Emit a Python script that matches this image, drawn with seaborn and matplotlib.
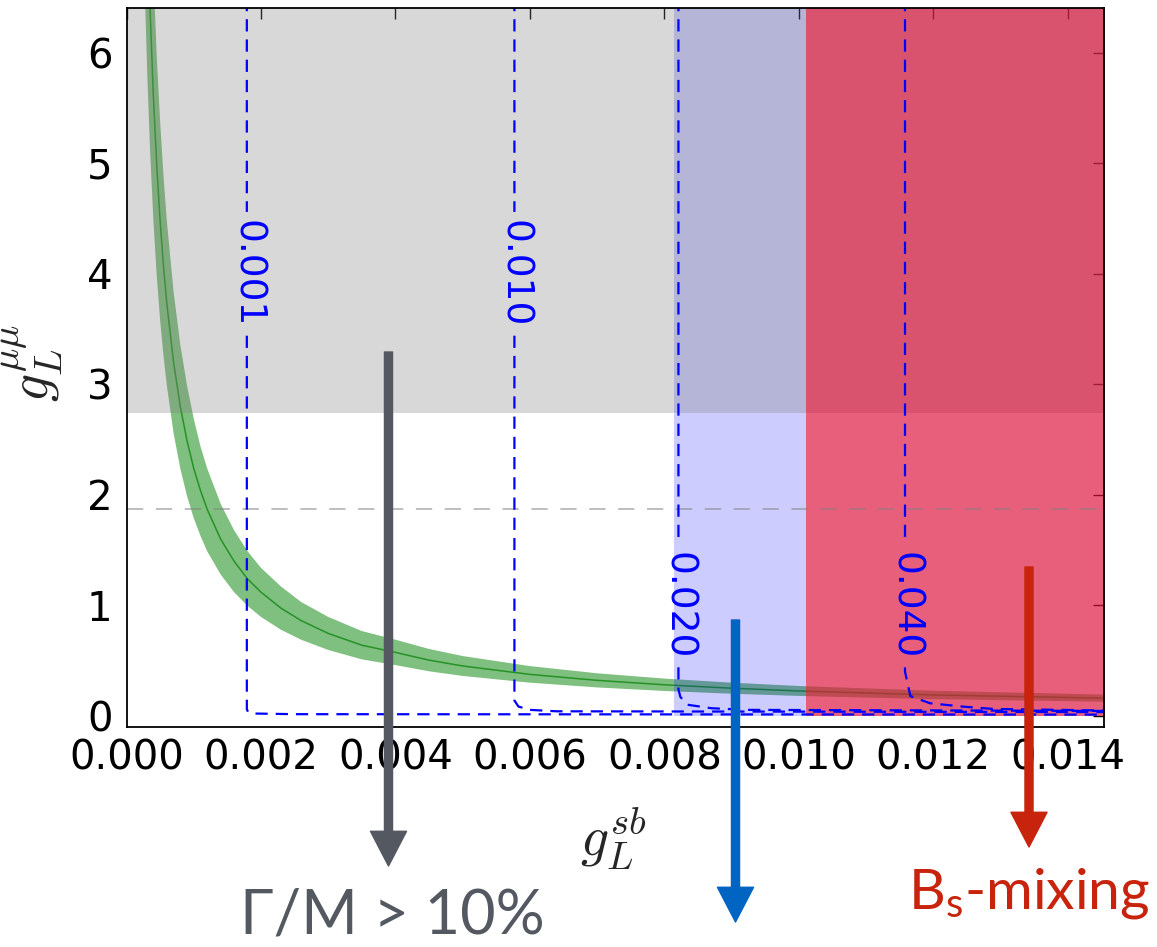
import numpy as np
import matplotlib
matplotlib.use("Agg")
import matplotlib.pyplot as plt
import seaborn as sns
from matplotlib.patches import FancyArrowPatch, ArrowStyle

# ---------------------------------------------------------------------------
# Data
# ---------------------------------------------------------------------------
# Preferred band in the (g_L^sb, g_L^mumu) plane: central curve and 1-sigma edges
gsb = [0.00025, 0.00028, 0.00031, 0.00035, 0.00040, 0.00045, 0.00050, 0.00055,
       0.00060, 0.00070, 0.00080, 0.00090, 0.00100, 0.00110, 0.00120, 0.00140,
       0.00160, 0.00180, 0.00200, 0.00230, 0.00260, 0.00300, 0.00350, 0.00400,
       0.00450, 0.00500, 0.00600, 0.00700, 0.00800, 0.00900, 0.01000, 0.01200,
       0.01460]
gmm_center = [8.96, 8.00, 7.23, 6.40, 5.60, 4.98, 4.48, 4.07,
              3.73, 3.20, 2.80, 2.49, 2.24, 2.04, 1.87, 1.60,
              1.40, 1.24, 1.12, 0.974, 0.862, 0.747, 0.640, 0.575,
              0.505, 0.452, 0.376, 0.322, 0.282, 0.251, 0.226, 0.190,
              0.160]
gmm_low = [7.17, 6.40, 5.78, 5.12, 4.48, 3.98, 3.58, 3.26,
           2.99, 2.56, 2.24, 1.99, 1.79, 1.63, 1.49, 1.28,
           1.12, 0.996, 0.896, 0.779, 0.689, 0.597, 0.512, 0.460,
           0.404, 0.362, 0.301, 0.258, 0.226, 0.201, 0.181, 0.152,
           0.128]
gmm_high = [10.75, 9.60, 8.67, 7.68, 6.72, 5.97, 5.38, 4.89,
            4.48, 3.84, 3.36, 2.99, 2.69, 2.44, 2.24, 1.92,
            1.68, 1.49, 1.34, 1.17, 1.03, 0.896, 0.768, 0.690,
            0.606, 0.542, 0.451, 0.386, 0.338, 0.301, 0.271, 0.228,
            0.192]

# Excluded / constrained regions
width_bound_gmm = 2.74            # above: Gamma/M > 10%
reference_gmm = 1.87              # dashed reference coupling
blue_region_gsb = [0.00815, 0.0101]
bs_mixing_gsb = [0.0101, 0.0147]

# Iso-contours (vertical branch, knee, floor)
contour_labels = ["0.001", "0.010", "0.020", "0.040"]
contour_gsb = [
    [0.00179, 0.00179, 0.00181, 0.00188, 0.00250, 0.01470],
    [0.00577, 0.00577, 0.00583, 0.00600, 0.00640, 0.01470],
    [0.00821, 0.00821, 0.00824, 0.00836, 0.00870, 0.00920, 0.01470],
    [0.01158, 0.01158, 0.01166, 0.01195, 0.01245, 0.01290, 0.01470],
]
contour_gmm = [
    [6.5, 0.06, 0.035, 0.022, 0.016, 0.012],
    [6.5, 0.14, 0.085, 0.055, 0.042, 0.035],
    [6.5, 0.24, 0.17, 0.10, 0.07, 0.055, 0.045],
    [6.5, 0.40, 0.18, 0.115, 0.084, 0.063, 0.048],
]
contour_label_gmm = [4.0, 4.0, 1.0, 1.0]

x_ticks = [0.000, 0.002, 0.004, 0.006, 0.008, 0.010, 0.012, 0.014]
y_ticks = [0, 1, 2, 3, 4, 5, 6]

# ---------------------------------------------------------------------------
# Style
# ---------------------------------------------------------------------------
sns.set_theme(style="white")
plt.rcParams["font.family"] = ["DejaVu Sans"]
plt.rcParams["mathtext.fontset"] = "custom"
plt.rcParams["mathtext.rm"] = "Lato:regular"
plt.rcParams["mathtext.it"] = "Lato:italic"

W, H = 1157, 947
fig = plt.figure(figsize=(W / 100, H / 100), dpi=100)
fig.patch.set_facecolor("white")
ax = fig.add_axes([126.5 / W, 1 - 727 / H, (1104 - 126.5) / W, (727 - 8.5) / H])
ax.set_facecolor("white")

XMAX, YMIN, YMAX = 0.01454, -0.1, 6.4

# preferred band
ax.fill_between(gsb, gmm_low, gmm_high, color="green", alpha=0.5, lw=0, zorder=1)
sns.lineplot(x=gsb, y=gmm_center, ax=ax, color="green", lw=1.1, alpha=0.7,
             estimator=None, sort=False, zorder=1.5)

# constraint regions
ax.fill_between(blue_region_gsb, 0, YMAX + 1, color="blue", alpha=0.2, lw=0, zorder=2)
ax.fill_between([0, XMAX + 0.001], width_bound_gmm, YMAX + 1, color="gray",
                alpha=0.3, lw=0, zorder=3)
ax.fill_between(bs_mixing_gsb, 0, YMAX + 1, color="crimson", alpha=0.68, lw=0, zorder=4)

# reference coupling
ax.axhline(reference_gmm, color="gray", alpha=0.55, lw=1.3, dashes=(9, 7), zorder=4.5)

# iso-contours with inline labels
gap = 0.56
for lab, xs, ys, ly in zip(contour_labels, contour_gsb, contour_gmm, contour_label_gmm):
    px = [xs[0], xs[0], np.nan, xs[0]] + list(xs[1:])
    py = [ys[0], ly + gap, np.nan, ly - gap] + list(ys[1:])
    ax.plot(px, py, color="blue", lw=1.6, dashes=(5.5, 3.6), zorder=5)
    ax.text(xs[0], ly, lab, rotation=-90, ha="center", va="center",
            color="blue", fontsize=27, zorder=5)

ax.set_xlim(0, XMAX)
ax.set_ylim(YMIN, YMAX)
ax.set_xticks(x_ticks)
ax.set_xticklabels([f"{t:.3f}" for t in x_ticks])
ax.set_yticks(y_ticks)
ax.tick_params(direction="in", top=True, right=True, length=8, width=1,
               color="black", labelsize=29, colors="black")
ax.tick_params(axis="x", pad=8)
ax.tick_params(axis="y", pad=10)
for s in ax.spines.values():
    s.set_color("black")
    s.set_linewidth(1.3)
    s.set_zorder(6)

ax.set_xlabel(r"$g_L^{sb}$", fontsize=40, math_fontfamily="cm")
ax.set_ylabel(r"$g_L^{\mu\mu}$", fontsize=40, math_fontfamily="cm")
ax.xaxis.set_label_coords(0.498, -0.108)
ax.yaxis.set_label_coords(-0.063, 0.507)


# annotations below the plot (figure pixel positions, origin top-left)
def fxy(px, py):
    return (px / W, 1 - py / H)


def down_arrow(x, y0, y1, color):
    arr = FancyArrowPatch(fxy(x, y0), fxy(x, y1), transform=fig.transFigure,
                          arrowstyle=ArrowStyle.Simple(head_length=25, head_width=26,
                                                       tail_width=5.8),
                          mutation_scale=1, color=color, shrinkA=0, shrinkB=0,
                          zorder=10)
    fig.add_artist(arr)


gray_c, blue_c, red_c = "#545860", "#0064c3", "#c8230c"
down_arrow(388.5, 352, 866, gray_c)
down_arrow(735.5, 620, 922, blue_c)
down_arrow(1029, 567, 847, red_c)

fig.text(*fxy(392, 916), "Γ/M > 10%", color=gray_c, fontsize=44,
         family="Lato", fontweight="normal", ha="center", va="center")
fig.text(*fxy(1029, 893), r"B$_\mathrm{s}$-mixing", color=red_c, fontsize=41,
         family="Lato", fontweight="normal", ha="center", va="center",
         math_fontfamily="custom")

fig.savefig("out.png", dpi=100)
